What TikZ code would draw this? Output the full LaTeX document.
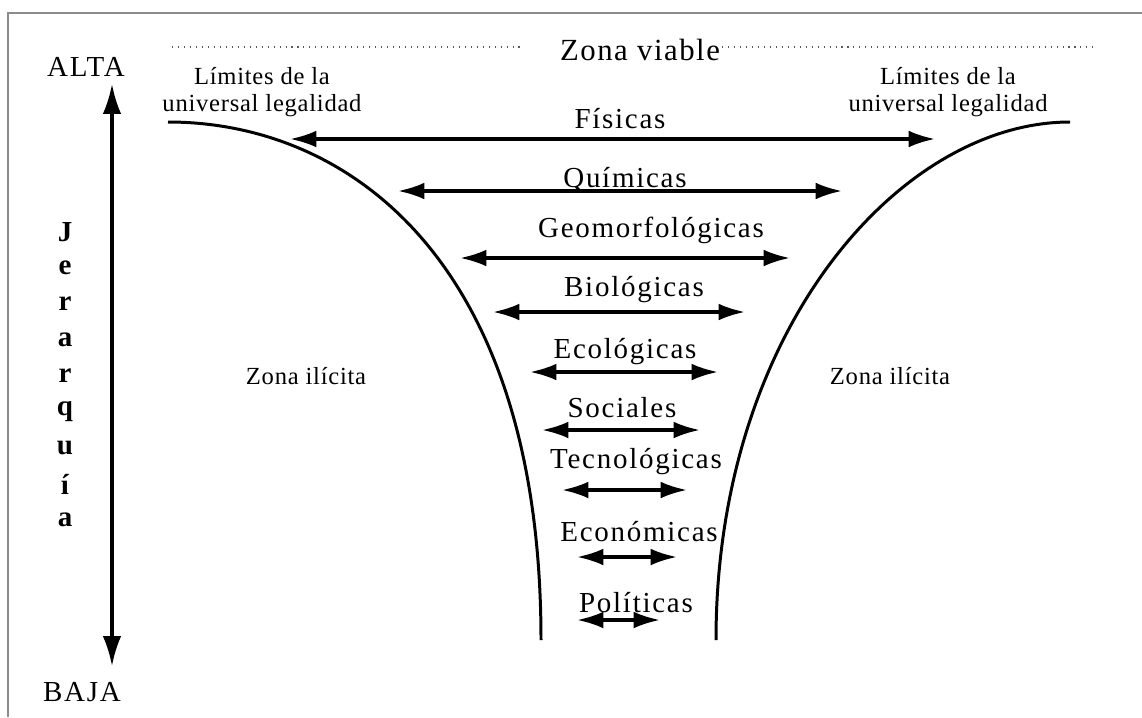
\documentclass[tikz,border=0pt]{standalone}
\usepackage{fontspec}
\setmainfont{Liberation Serif}
\usetikzlibrary{arrows.meta}
\tikzset{
  px/.style={x=0.02cm,y=-0.02cm},
  lbl/.style={font=\fontsize{16.5}{18}\selectfont\addfontfeatures{LetterSpace=6}, inner sep=0pt},
  big/.style={font=\fontsize{17.5}{19}\selectfont\addfontfeatures{LetterSpace=5}, inner sep=0pt},
  small/.style={font=\fontsize{14}{15.5}\selectfont\addfontfeatures{LetterSpace=3}, inner sep=0pt, align=center},
  vert/.style={font=\fontsize{16.5}{18}\selectfont\bfseries, inner sep=0pt},
  dbl/.style={line width=1.8pt, {Latex[length=15pt,width=9.5pt]}-{Latex[length=15pt,width=9.5pt]}},
  axis/.style={line width=1.8pt, {Latex[length=17pt,width=10.5pt]}-{Latex[length=17pt,width=10.5pt]}},
  funnel/.style={line width=1.7pt},
  frame/.style={draw=black!45, line width=0.8pt},
  dots/.style={line width=1pt, black!65, dash pattern=on 0.6pt off 2.8pt},
}
\begin{document}
\begin{tikzpicture}[px]
\useasboundingbox (0,0) rectangle (1142,717);
% frame
\coordinate (ftl) at (8,13);
\coordinate (ftr) at (1142,13);
\coordinate (fbl) at (8,717);
\draw[frame] (ftr) -- (ftl) -- (fbl);
% hierarchy axis
\node[lbl] (alta) at (86,67) {ALTA};
\node[lbl] (baja) at (82,692) {BAJA};
\coordinate (vt) at (112,84);
\coordinate (vb) at (112,666);
\draw[axis] (vt) -- (vb);
\foreach \l/\y [count=\i] in {J/232,e/268,r/304,a/340,r/376,q/412,u/448,í/484,a/520}
  \node[vert] (v\i) at (65,\y) {\l};
% zona viable
\node[big] (zv) at (640,50) {Zona viable};
\coordinate (d1) at (172,47);
\coordinate (d2) at (522,47);
\coordinate (d3) at (722,47);
\coordinate (d4) at (1095,47);
\draw[dots] (d1) -- (d2);
\draw[dots] (d3) -- (d4);
% limits
\node[small] (liml) at (262,92) {Límites de la\\universal legalidad};
\node[small] (limr) at (948,92) {Límites de la\\universal legalidad};
% funnel
\coordinate (lt) at (168,122);
\coordinate (lb) at (541,640);
\coordinate (rt) at (1070,122);
\coordinate (rb) at (716,640);
\draw[funnel] (lt) .. controls (348,122) and (541,260) .. (lb);
\draw[funnel] (rt) .. controls (900,122) and (716,330) .. (rb);
% zones
\node[small] (zil) at (306,376) {Zona ilícita};
\node[small] (zir) at (890,376) {Zona ilícita};
% levels
\foreach \n/\t/\cx/\ty/\ay/\xa/\xb in {
  fis/Físicas/620/119/139/290/935,
  qui/Químicas/625/180/191/398/842,
  geo/Geomorfológicas/651/230/258/460/790,
  bio/Biológicas/634/290/312/493/745,
  eco/Ecológicas/625/352/372/530/718,
  soc/Sociales/622/408/430/542/700,
  tec/Tecnológicas/636/462/490/562/687,
  ecn/Económicas/639/532/557/577/677,
  pol/Políticas/636/603/620/577/660}
{
  \node[lbl] (\n) at (\cx,\ty) {\t};
  \coordinate (\n l) at (\xa,\ay);
  \coordinate (\n r) at (\xb,\ay);
  \draw[dbl] (\n l) -- (\n r);
}
\end{tikzpicture}
\end{document}
